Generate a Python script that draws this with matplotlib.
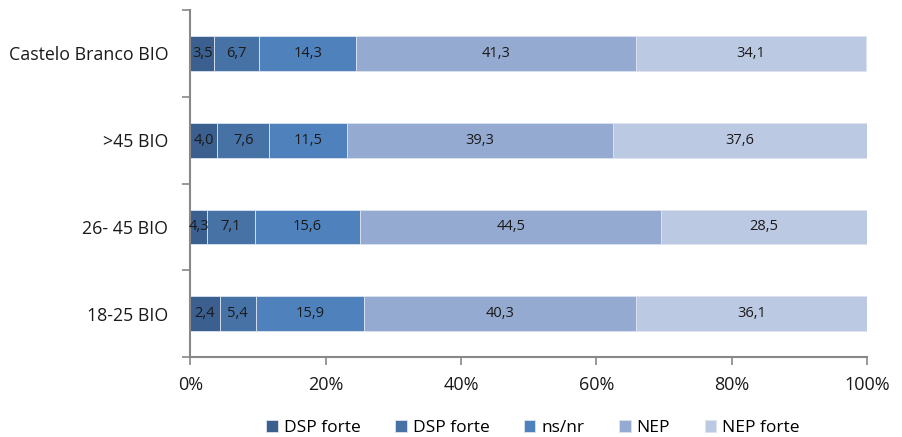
import matplotlib
matplotlib.use("Agg")
import matplotlib.pyplot as plt
import numpy as np

categories = ["18-25 BIO", "26- 45 BIO", ">45 BIO", "Castelo Branco BIO"]
series_names = ["DSP forte", "DSP forte", "ns/nr", "NEP", "NEP forte"]
# bar lengths as drawn in the picture (bottom row first)
dsp_forte_a = [4.3, 2.4, 4.0, 3.5]
dsp_forte_b = [5.4, 7.1, 7.6, 6.7]
ns_nr = [15.9, 15.6, 11.5, 14.3]
nep = [40.3, 44.5, 39.3, 41.3]
nep_forte = [36.1, 30.4, 37.6, 34.1]
# printed labels
labels_dsp_a = ["2,4", "4,3", "4,0", "3,5"]
labels_dsp_b = ["5,4", "7,1", "7,6", "6,7"]
labels_nsnr = ["15,9", "15,6", "11,5", "14,3"]
labels_nep = ["40,3", "44,5", "39,3", "41,3"]
labels_nepf = ["36,1", "28,5", "37,6", "34,1"]
x_ticks = [0, 20, 40, 60, 80, 100]
x_ticklabels = ["0%", "20%", "40%", "60%", "80%", "100%"]

colors = ["#3B5F8E", "#4672A6", "#4F81BD", "#95AAD0", "#BCC9E3"]

plt.rcParams["font.family"] = ["Open Sans", "DejaVu Sans"]

fig = plt.figure(figsize=(9.02, 4.37), dpi=100)
ax = fig.add_axes([0.2111, 0.183, 0.7501, 0.794])

series = [dsp_forte_a, dsp_forte_b, ns_nr, nep, nep_forte]
labels = [labels_dsp_a, labels_dsp_b, labels_nsnr, labels_nep, labels_nepf]
y = np.arange(len(categories))
left = np.zeros(len(categories))
handles = []
for vals, labs, col, name in zip(series, labels, colors, series_names):
    vals = np.array(vals, dtype=float)
    b = ax.barh(y, vals, left=left, height=0.4, color=col,
                edgecolor="#DCE3EF", linewidth=0.6, label=name)
    handles.append(b)
    for yi, l0, v, t in zip(y, left, vals, labs):
        x0 = l0
        x1 = min(l0 + v, 100)
        ax.text((x0 + x1) / 2, yi, t, ha="center", va="center",
                fontsize=10.5, color="#1A1A1A")
    left = left + vals

ax.set_xlim(0, 100)
ax.set_ylim(-0.5, len(categories) - 0.5)
ax.set_xticks(x_ticks)
ax.set_xticklabels(x_ticklabels, fontsize=13, color="#1A1A1A")
ax.set_yticks(y)
ax.set_yticklabels(categories, fontsize=12.8, color="#1A1A1A")
ax.set_yticks(np.arange(-0.5, len(categories), 1.0), minor=True)
ax.tick_params(axis="y", which="major", length=0, pad=16)
ax.tick_params(axis="y", which="minor", length=6, width=1.2, color="#888888", direction="out")
ax.tick_params(axis="x", which="major", length=6, width=1.2, color="#888888", direction="out", pad=8)
for s in ["top", "right"]:
    ax.spines[s].set_visible(False)
for s in ["left", "bottom"]:
    ax.spines[s].set_color("#888888")
    ax.spines[s].set_linewidth(1.5)

fig.legend(handles=handles, labels=series_names, loc="center",
           bbox_to_anchor=(0.591, 0.021), ncol=5, frameon=False,
           fontsize=12.5, handlelength=0.65, handleheight=0.65,
           handletextpad=0.35, columnspacing=2.0)

fig.savefig("out.png", dpi=100)
